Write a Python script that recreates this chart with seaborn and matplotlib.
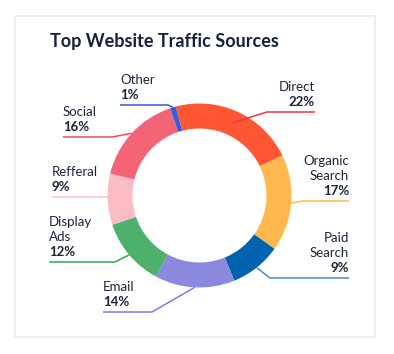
import matplotlib
matplotlib.use("Agg")
import matplotlib.pyplot as plt
import seaborn as sns
import numpy as np
from matplotlib.patches import Rectangle

sns.set_theme(style="white")
plt.rcParams['font.family'] = ['Lato', 'DejaVu Sans']

# data
sources = ["Direct", "Organic\nSearch", "Paid\nSearch", "Email", "Display\nAds", "Refferal", "Social", "Other"]
shares = [22, 17, 9, 14, 12, 9, 16, 1]
wedge_colors = ["#FF5733", "#FFB84D", "#0063AE", "#8A89DE", "#4DB06B", "#FBBCC5", "#F26476", "#3B5BDB"]
line_colors = ["#E8344E", "#FFBE4F", "#4A8CC9", "#7D7AE8", "#2DAA4E", "#FBC4CC", "#EE4A5E", "#4352D8"]

# label layout in pixels: elbow x, line y, end x, start radius
layout = [
    (267, 112, 315, 80),
    (302, 201, 349, 92),
    (270, 278, 349, 92),
    (152, 312, 103, 92),
    (115, 262, 49, 92),
    (108, 197, 52, 92),
    (112, 137, 63, 92),
    (168, 105, 120, 92),
]

W, H = 394, 354
cx, cy = 199.5, 195.5
text_col = "#1B2438"


def Y(y):
    return H - y


fig = plt.figure(figsize=(W / 100, H / 100), dpi=100)
fig.patch.set_facecolor("white")
ax = fig.add_axes([0, 0, 1, 1])

# card border
ax.add_patch(Rectangle((15, Y(337)), 360, 321, facecolor="white",
                       edgecolor="#E6ECF3", linewidth=1.2, zorder=0))

wedges, _ = ax.pie(shares, colors=wedge_colors, startangle=105, counterclock=False,
                   radius=92, center=(cx, Y(cy)),
                   wedgeprops=dict(width=25, edgecolor="none", linewidth=0))

for w, name, pct, lc, (ex, ly, endx, r0) in zip(wedges, sources, shares, line_colors, layout):
    mid = np.deg2rad((w.theta1 + w.theta2) / 2)
    sx = cx + r0 * np.cos(mid)
    sy = Y(cy) + r0 * np.sin(mid)
    ax.plot([sx, ex, endx], [sy, Y(ly), Y(ly)], color=lc, lw=1.1, zorder=5,
            solid_capstyle="butt")
    ha = "right" if endx > cx else "left"
    ax.text(endx, Y(ly - 10), f"{pct}%", ha=ha, va="center", fontsize=9.5,
            fontweight="bold", color=text_col)
    for k, part in enumerate(reversed(name.split("\n"))):
        ax.text(endx, Y(ly - 10 - 15 * (k + 1)), part, ha=ha, va="center",
                fontsize=9.5, color=text_col)

ax.text(50, Y(42), "Top Website Traffic Sources", ha="left", va="center",
        fontsize=13, fontweight="bold", color="#14213D")

ax.set_xlim(0, W)
ax.set_ylim(0, H)
ax.set_aspect("equal")
ax.axis("off")

fig.savefig("out.png", dpi=100, facecolor="white")
